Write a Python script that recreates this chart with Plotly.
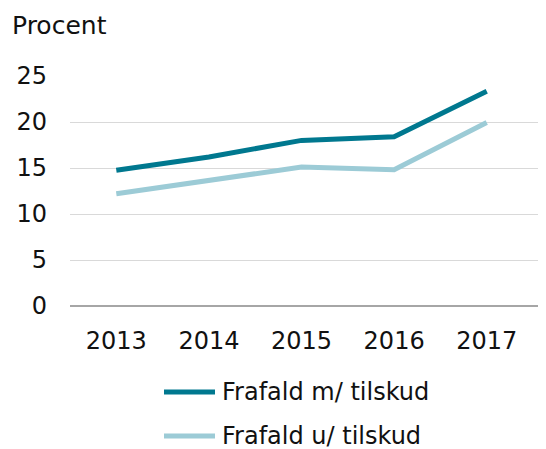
import plotly.graph_objects as go

years = ["2013", "2014", "2015", "2016", "2017"]
med_tilskud = [14.75, 16.2, 18.0, 18.4, 23.35]
uden_tilskud = [12.2, 13.65, 15.1, 14.8, 19.95]
y_ticks = [0, 5, 10, 15, 20, 25]
series_names = ["Frafald m/ tilskud", "Frafald u/ tilskud"]
series_colors = ["#00788F", "#9CCBD6"]

FONT = "DejaVu Sans, Verdana, sans-serif"

fig = go.Figure()
for name, vals, col in zip(series_names, [med_tilskud, uden_tilskud], series_colors):
    fig.add_trace(go.Scatter(x=years, y=vals, mode="lines", name=name,
                             line=dict(color=col, width=5), showlegend=False))

# legend drawn below the plot (line sample + label)
PLOT_TOP, PLOT_H, PLOT_L, PLOT_W = 76, 230, 70, 476
def px_y(py):
    return (PLOT_TOP + PLOT_H - py) / PLOT_H
def px_x(px):
    return (px - PLOT_L) / PLOT_W

legend_rows = [392, 436]
for name, col, row in zip(series_names, series_colors, legend_rows):
    fig.add_shape(type="line", xref="paper", yref="paper",
                  x0=px_x(164), x1=px_x(215), y0=px_y(row), y1=px_y(row),
                  line=dict(color=col, width=5))
    fig.add_annotation(text=name, xref="paper", yref="paper", x=px_x(221), y=px_y(row),
                       xanchor="left", yanchor="middle", showarrow=False,
                       height=24, borderpad=0, font=dict(size=24))

W, H = 538, 441  # page body has 8px default margin
fig.update_layout(
    width=W, height=H,
    margin=dict(l=62, r=0, t=68, b=143),
    paper_bgcolor="white", plot_bgcolor="white",
    font=dict(family=FONT, size=24, color="#111111"),
    title=dict(text="Procent", x=4/W, xanchor="left", xref="container",
               y=1 - 17/H, yanchor="middle", yref="container", font=dict(size=25)),
    showlegend=False,
    xaxis=dict(type="category", range=[-0.5, 4.64], showgrid=False, zeroline=False,
               showline=False, ticks="", ticklabelstandoff=18, automargin=False),
    yaxis=dict(range=[0, 25], tickvals=y_ticks, showgrid=True, gridcolor="#D9D9D9",
               gridwidth=1, zeroline=True, zerolinecolor="#A6A6A6", zerolinewidth=1.5,
               showline=False, ticks="", ticklabelstandoff=22, automargin=False),
)

fig.write_html("out.html")
